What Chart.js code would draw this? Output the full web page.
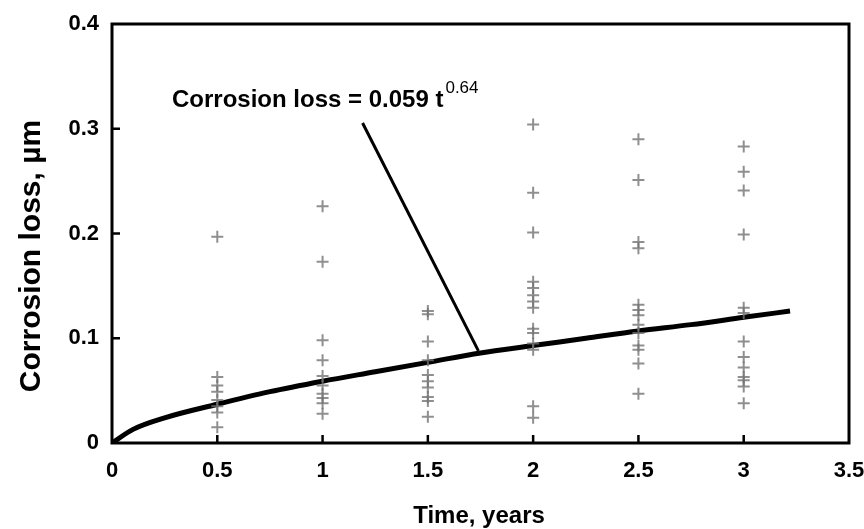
<!DOCTYPE html>
<html>
<head>
<meta charset="utf-8">
<script src="https://cdn.jsdelivr.net/npm/chart.js@4/dist/chart.umd.min.js"></script>
<style>
  html, body { margin: 0; padding: 0; background: #fff; }
  #wrap { width: 864px; height: 529px; }
</style>
</head>
<body>
<div id="wrap"><canvas id="lossChart"></canvas></div>
<script>
/* data */
const times = [0.5, 1, 1.5, 2, 2.5, 3];
const loss05 = [0.197, 0.063, 0.055, 0.049, 0.041, 0.035, 0.029, 0.015];
const loss10 = [0.226, 0.173, 0.098, 0.079, 0.064, 0.055, 0.047, 0.043, 0.038, 0.028];
const loss15 = [0.126, 0.123, 0.097, 0.079, 0.065, 0.059, 0.053, 0.044, 0.040, 0.025];
const loss20 = [0.304, 0.239, 0.201, 0.154, 0.148, 0.141, 0.135, 0.129, 0.109, 0.105, 0.095, 0.089, 0.035, 0.024];
const loss25 = [0.290, 0.251, 0.192, 0.186, 0.132, 0.127, 0.122, 0.113, 0.105, 0.093, 0.089, 0.076, 0.047];
const loss30 = [0.283, 0.259, 0.241, 0.199, 0.129, 0.124, 0.097, 0.082, 0.072, 0.063, 0.060, 0.054, 0.038];
const lossByTime = [loss05, loss10, loss15, loss20, loss25, loss30];

// fitted curve as traced on the picture
const fitTime = [0, 0.1, 0.25, 0.5, 0.75, 1, 1.25, 1.5, 1.75, 2, 2.25, 2.5, 2.75, 3, 3.22];
const fitLoss = [0, 0.013, 0.024, 0.037, 0.049, 0.059, 0.068, 0.077, 0.086, 0.093, 0.100, 0.107, 0.113, 0.120, 0.126];

// leader line from label to curve
const leaderTime = [1.19, 1.74];
const leaderLoss = [0.3055, 0.088];

const xTicks = [0, 0.5, 1, 1.5, 2, 2.5, 3, 3.5];
const yTicks = [0, 0.1, 0.2, 0.3, 0.4];

const FONT = "'Liberation Sans', Arial, sans-serif";

const points = [];
times.forEach((t, i) => {
  lossByTime[i].forEach((v) => points.push({ x: t, y: v }));
});

/* Frame, inward ticks, axis titles and the equation label */
const framePlugin = {
  id: "frame",
  afterDraw(chart) {
    const ctx = chart.ctx;
    const a = chart.chartArea;
    const xs = chart.scales.x;
    const ys = chart.scales.y;
    ctx.save();
    ctx.strokeStyle = "#000";
    ctx.lineWidth = 3;
    ctx.strokeRect(a.left, a.top, a.right - a.left, a.bottom - a.top);
    ctx.lineWidth = 2.5;
    ctx.beginPath();
    xTicks.slice(1, -1).forEach((t) => {
      const px = xs.getPixelForValue(t);
      ctx.moveTo(px, a.bottom);
      ctx.lineTo(px, a.bottom - 8);
    });
    yTicks.slice(1, -1).forEach((v) => {
      const py = ys.getPixelForValue(v);
      ctx.moveTo(a.left, py);
      ctx.lineTo(a.left + 8, py);
    });
    ctx.stroke();

    ctx.fillStyle = "#000";

    // axis titles
    ctx.font = "bold 24px " + FONT;
    ctx.textAlign = "center";
    ctx.textBaseline = "alphabetic";
    ctx.fillText("Time, years", 479, 523);
    ctx.save();
    ctx.translate(40, 256);
    ctx.rotate(-Math.PI / 2);
    ctx.font = "bold 30px " + FONT;
    ctx.fillText("Corrosion loss, µm", 0, 0);
    ctx.restore();

    // equation text
    const tx = xs.getPixelForValue(0.285);
    const ty = ys.getPixelForValue(0.321);
    ctx.textAlign = "left";
    ctx.font = "bold 24px " + FONT;
    const main = "Corrosion loss = 0.059 t";
    ctx.fillText(main, tx, ty);
    const w = ctx.measureText(main).width;
    ctx.font = "17px " + FONT;
    ctx.fillText("0.64", tx + w + 2, ty - 14);
    ctx.restore();
  },
};

const ctx = document.getElementById("lossChart").getContext("2d");

const config = {
  type: "scatter",
  data: {
    datasets: [
      {
        label: "Measured",
        data: points,
        pointStyle: "cross",
        pointRadius: 6,
        pointBorderWidth: 2,
        borderColor: "rgba(115,115,115,0.8)",
        backgroundColor: "rgba(115,115,115,0.8)",
        showLine: false,
      },
      {
        label: "Fit",
        data: fitTime.map((t, i) => ({ x: t, y: fitLoss[i] })),
        showLine: true,
        borderColor: "#000",
        borderWidth: 5,
        pointRadius: 0,
        cubicInterpolationMode: "monotone",
      },
      {
        label: "Leader",
        data: leaderTime.map((t, i) => ({ x: t, y: leaderLoss[i] })),
        showLine: true,
        borderColor: "#000",
        borderWidth: 3,
        pointRadius: 0,
      },
    ],
  },
  options: {
    responsive: true,
    maintainAspectRatio: false,
    animation: false,
    layout: {
      padding: { left: 0, right: 15, top: 24, bottom: 0 },
    },
    plugins: {
      legend: { display: false },
      tooltip: { enabled: false },
    },
    scales: {
      x: {
        type: "linear",
        min: 0,
        max: 3.5,
        afterBuildTicks: (s) => { s.ticks = xTicks.map((v) => ({ value: v })); },
        afterFit: (s) => {
          s.height = 86;
          s.paddingLeft = 0;
          s.paddingRight = 0;
        },
        grid: { display: false },
        border: { display: false },
        ticks: {
          padding: 7,
          color: "#000",
          font: { family: FONT, size: 22, weight: "bold" },
          callback: (v) => String(v),
        },
      },
      y: {
        type: "linear",
        min: 0,
        max: 0.4,
        afterBuildTicks: (s) => { s.ticks = yTicks.map((v) => ({ value: v })); },
        afterFit: (s) => {
          s.width = 112;
          s.paddingTop = 0;
          s.paddingBottom = 0;
        },
        grid: { display: false },
        border: { display: false },
        ticks: {
          padding: 5,
          color: "#000",
          font: { family: FONT, size: 22, weight: "bold" },
          callback: (v) => String(v),
        },
      },
    },
  },
  plugins: [framePlugin],
};

const lossChart = new Chart(ctx, config);
</script>
</body>
</html>
